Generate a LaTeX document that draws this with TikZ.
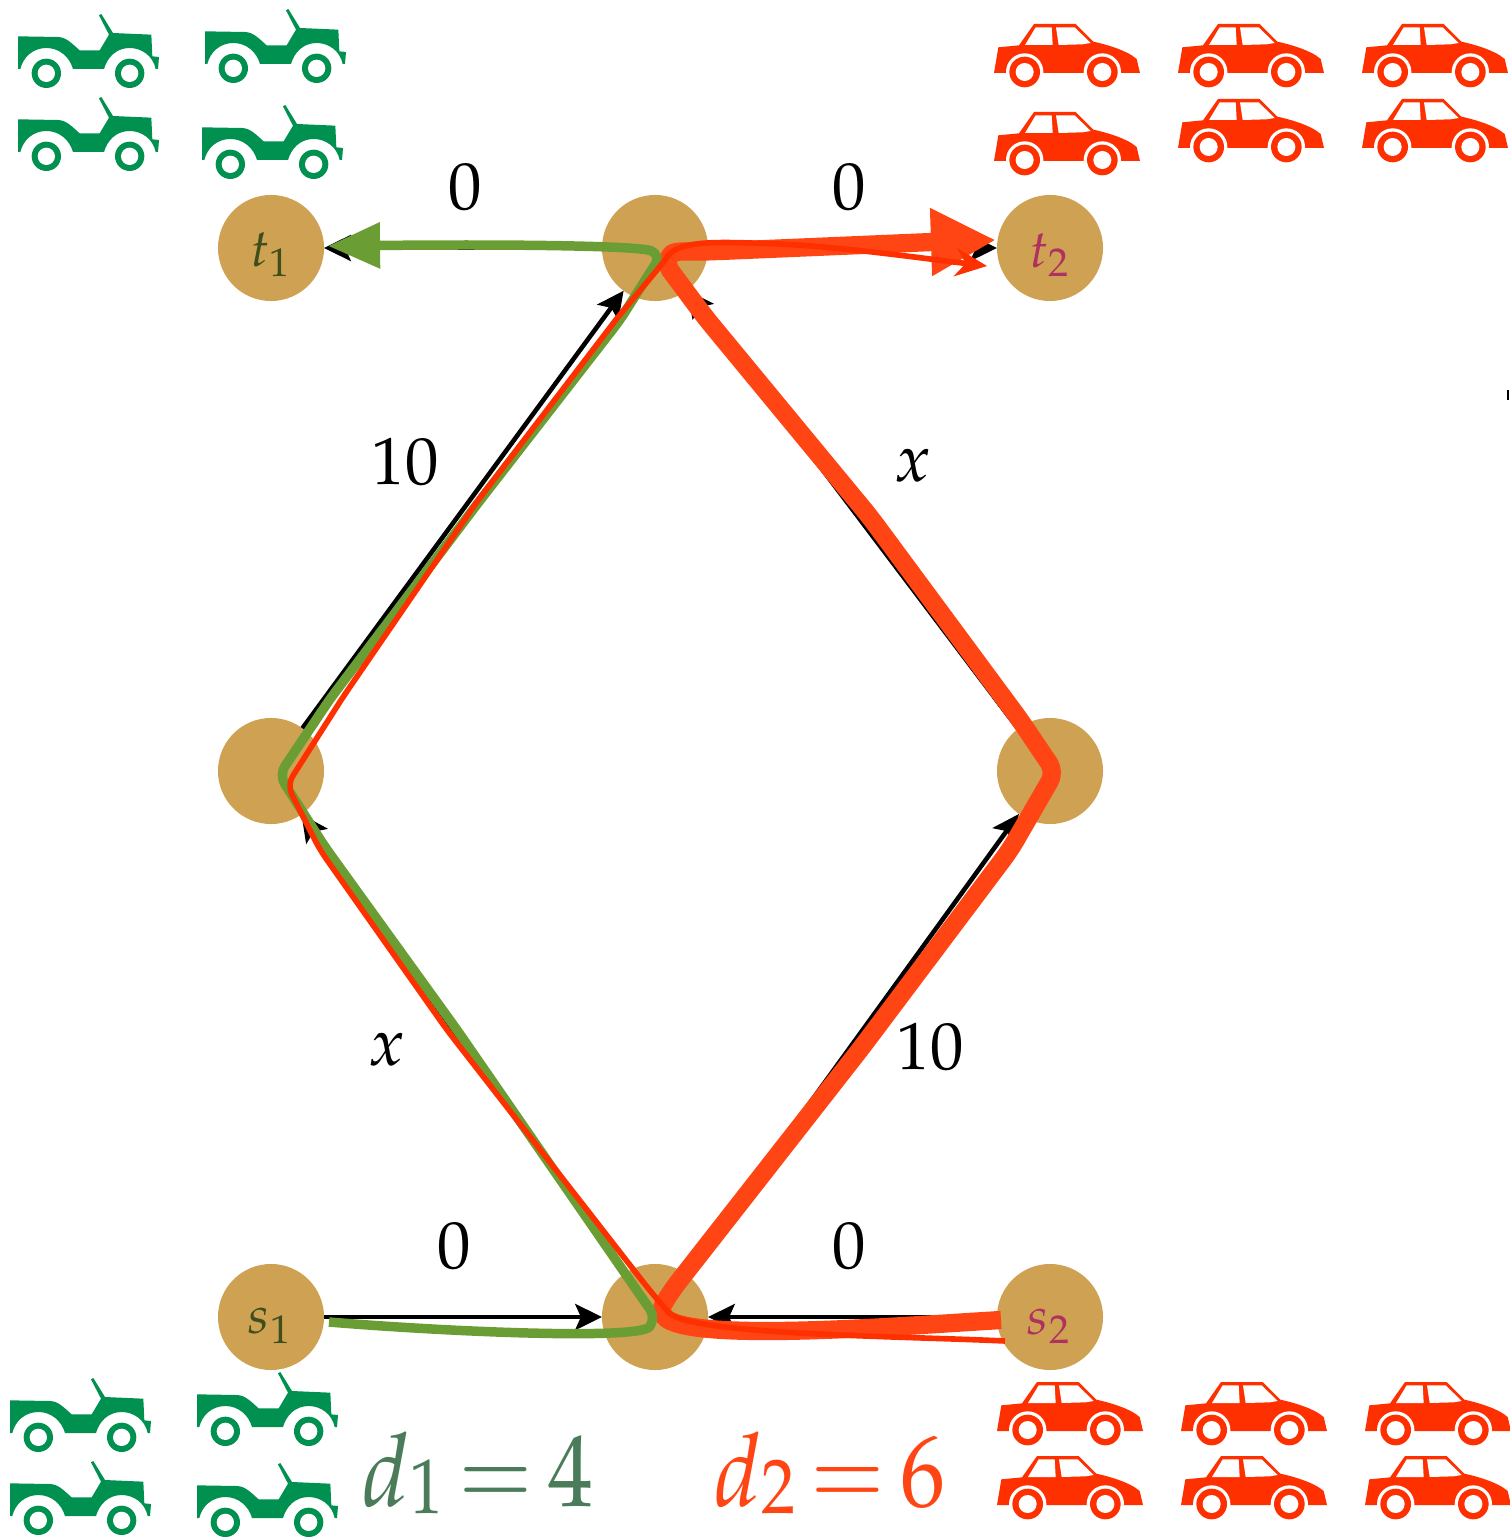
\documentclass[tikz,border=0pt]{standalone}
\usepackage{amsmath}
\usepackage{graphicx}
\usepackage{mathpazo}
\usepackage{tikz}
\usetikzlibrary{arrows.meta}
\definecolor{JeepGreen}{HTML}{00904F}
\definecolor{CarRed}{HTML}{FF3000}
\definecolor{FlowOrange}{HTML}{FF4514}
\definecolor{FlowGreen}{HTML}{6A9E35}
\definecolor{NodeTan}{HTML}{CFA253}
\definecolor{SourceGreen}{HTML}{3E4F1C}
\definecolor{SinkPink}{HTML}{B03060}
\definecolor{CostGreen}{HTML}{4A7C59}
\newcommand{\delaytext}[2]{\scalebox{0.88}[1]{$d\raisebox{-2pt}{$\scriptstyle #1$}\,{=}\,#2$}}
\tikzset{
  vertex/.style={circle, fill=NodeTan, inner sep=0pt, outer sep=0pt, minimum size=1.06cm},
  vlabel/.style={inner sep=0pt, font=\fontsize{15}{18}\selectfont},
  edge/.style={line width=1.3pt, -{Stealth[length=7.6pt, width=7.4pt, inset=1.6pt]}},
  cost/.style={font=\fontsize{19}{23}\selectfont},
  delay/.style={font=\fontsize{29}{34}\selectfont},
  jeep/.pic={
    \begin{scope}[scale=1/3]
      \fill[JeepGreen] (0,67) -- (120,69) .. controls (145,70) and (160,87) .. (185,109) -- (245,109) -- (273,62) -- (243,4) -- (250,0) -- (285,57) -- (400,62) -- (403,127) -- (423,129) -- (420,165) -- (413,165)
        .. controls (405,125) and (370,102) .. (335,102) .. controls (295,102) and (268,130) .. (258,165) -- (165,165)
        .. controls (155,130) and (125,102) .. (85,102) .. controls (45,102) and (15,130) .. (7,165) -- (0,165) -- cycle;
      \foreach \wx in {85,335} {
        \fill[JeepGreen] (\wx,178) circle (44);
        \fill[white] (\wx,178) circle (26);
      }
    \end{scope}
  },
  car/.pic={
    \begin{scope}[scale=1/3]
      \fill[CarRed] (0,147) -- (13,70) -- (75,64) -- (120,0) -- (245,0) -- (298,53) .. controls (340,62) and (400,80) .. (428,105) -- (438,147) -- cycle;
      \fill[white] (93,63) -- (125,10) -- (173,10) -- (176,63) -- cycle;
      \fill[white] (194,63) -- (186,10) -- (242,10) -- (290,57) -- (265,61) -- cycle;
      \foreach \wx in {92,325} {
        \fill[white] (\wx,144) circle (56);
        \fill[CarRed] (\wx,144) circle (46);
        \fill[white] (\wx,144) circle (27);
      }
    \end{scope}
  }
}

\begin{document}
\begin{tikzpicture}[x=0.01cm, y=-0.01cm]
  \useasboundingbox (0,0) rectangle (1509,1537);

  % Jeeps
  \foreach \px/\py in {18/14, 205/9, 18/97, 202/105, 10/1378, 197/1372, 10/1461, 197/1463}
    \pic at (\px,\py) {jeep};

  % Cars
  \foreach \px/\py in {994/24, 1178/24, 1362/24, 994/112, 1178/99, 1362/99, 997/1382, 1181/1382, 1365/1382, 997/1456, 1181/1456, 1365/1456}
    \pic at (\px,\py) {car};

  % Vertices
  \node[vertex] (t1) at (271,248) {};
  \node[vertex] (top) at (655,248) {};
  \node[vertex] (t2) at (1050,248) {};
  \node[vertex] (midL) at (271,771) {};
  \node[vertex] (midR) at (1050,771) {};
  \node[vertex] (s1) at (271,1317) {};
  \node[vertex] (bot) at (655,1317) {};
  \node[vertex] (s2) at (1050,1317) {};

  % Vertex names
  \node[vlabel, SourceGreen] (t1name) at (271,255) {$t_1$};
  \node[vlabel, SinkPink] (t2name) at (1050,255) {$t_2$};
  \node[vlabel, SourceGreen] (s1name) at (270,1326) {$s_1$};
  \node[vlabel, SinkPink] (s2name) at (1049,1326) {$s_2$};

  % Network edges
  \draw[edge] (s1) -- (bot);
  \draw[edge] (s2) -- (bot);
  \draw[edge] (bot) -- (midL);
  \draw[edge] (bot) -- (midR);
  \draw[edge] (midL) -- (top);
  \draw[edge] (midR) -- (top);
  \draw[edge] (top) -- (t1);
  \draw[edge] (top) -- (t2);

  % Edge costs
  \node[cost] (c1) at (465,187) {$0$};
  \node[cost] (c2) at (849,187) {$0$};
  \node[cost] (c3) at (405,462) {$10$};
  \node[cost] (c4) at (913,466) {$x$};
  \node[cost] (c5) at (387,1050) {$x$};
  \node[cost] (c6) at (930,1047) {$10$};
  \node[cost] (c7) at (454,1246) {$0$};
  \node[cost] (c8) at (849,1246) {$0$};

  % Thick flow
  \coordinate (fatA) at (1001,1320);
  \coordinate (fatB) at (658,1313);
  \coordinate (fatC) at (1055,772);
  \coordinate (fatD) at (664,262);
  \coordinate (fatE) at (996,240);
  \draw[FlowOrange, line width=5.2pt, rounded corners=3pt, line join=round, -{Triangle[length=18.5pt, width=18pt]}]
    (fatA) .. controls (900,1326) and (700,1342) .. (fatB) -- (672,1290) -- (862,1047) -- (1010,850) -- (fatC)
    -- (1020,720) -- (870,517) -- (705,317) -- (fatD)
    .. controls (675,250) and (690,252) .. (720,251) -- (932,242) -- (fatE);

  % Green flow
  \coordinate (grnA) at (329,1322);
  \coordinate (grnB) at (656,1318);
  \coordinate (grnC) at (279,775);
  \coordinate (grnD) at (661,255);
  \coordinate (grnE) at (328,246);
  \draw[FlowGreen, line width=2.7pt, rounded corners=3pt, line join=round, -{Triangle[length=14.8pt, width=12.5pt]}]
    (grnA) .. controls (450,1332) and (640,1340) .. (grnB) -- (640,1295) -- (457,1030) -- (325,847) -- (grnC)
    -- (330,699) -- (478,503) -- (620,320) -- (grnD)
    .. controls (640,246) and (520,244) .. (grnE);

  % Thin flow
  \coordinate (redA) at (1005,1341);
  \coordinate (redB) at (662,1305);
  \coordinate (redC) at (287,785);
  \coordinate (redD) at (662,264);
  \coordinate (redE) at (987,266);
  \draw[CarRed, line width=1.6pt, rounded corners=3pt, line join=round, -{Stealth[length=9pt, width=8pt]}]
    (redA) .. controls (900,1336) and (690,1335) .. (redB) -- (647,1287) -- (447,1030) -- (320,850) -- (redC)
    -- (343,697) -- (476,503) -- (618,317) -- (redD)
    .. controls (680,240) and (720,242) .. (780,244) .. controls (850,248) and (920,258) .. (redE);

  % Total delays
  \node[delay, CostGreen] (d1) at (478,1473) {\delaytext{1}{4}};
  \node[delay, FlowOrange] (d2) at (830,1473) {\delaytext{2}{6}};

  % Tick at the right edge
  \fill[black] (1507,390) rectangle (1509,400);
\end{tikzpicture}
\end{document}
